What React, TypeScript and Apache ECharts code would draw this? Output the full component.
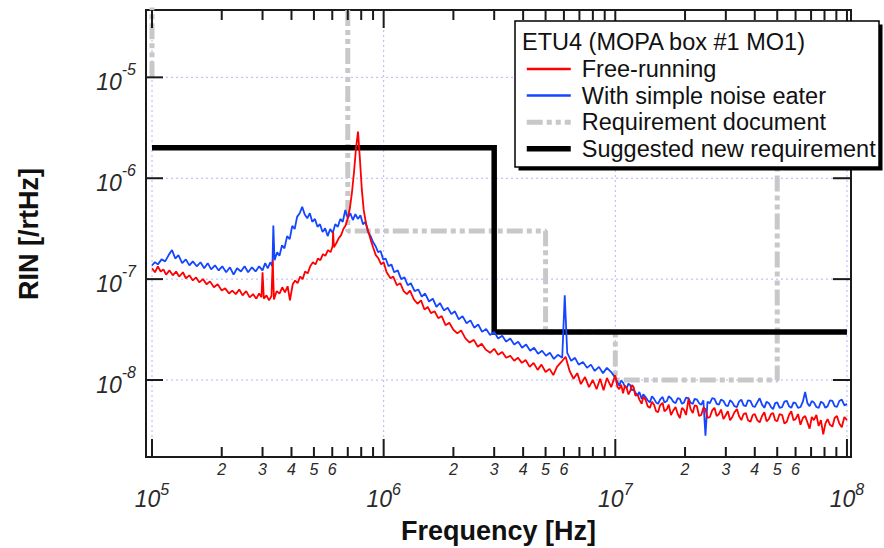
import React, { useEffect, useRef } from 'react';
import * as echarts from 'echarts';

const FONT = '"Liberation Sans", Arial, Helvetica, sans-serif';

// Free-running RIN [Hz, /rtHz]
const freeRunning: [number, number][] = [
  [1.00e5,1.28e-7],[1.03e5,1.17e-7],[1.06e5,1.34e-7],[1.09e5,1.19e-7],[1.12e5,1.25e-7],[1.15e5,1.11e-7],[1.19e5,1.22e-7],[1.23e5,1.09e-7],[1.27e5,1.19e-7],[1.31e5,1.06e-7],
  [1.36e5,1.17e-7],[1.40e5,1.02e-7],[1.45e5,1.09e-7],[1.50e5,9.7e-8],[1.55e5,1.04e-7],[1.60e5,9.3e-8],[1.66e5,1.0e-7],[1.72e5,8.9e-8],[1.78e5,9.5e-8],[1.85e5,8.3e-8],
  [1.92e5,8.9e-8],[2.0e5,7.7e-8],[2.07e5,8.1e-8],[2.15e5,7.2e-8],[2.22e5,7.7e-8],[2.30e5,7.1e-8],[2.38e5,7.9e-8],[2.46e5,6.9e-8],[2.55e5,7.6e-8],[2.64e5,6.6e-8],
  [2.73e5,7.1e-8],[2.82e5,6.4e-8],[2.90e5,7.2e-8],[2.97e5,6.6e-8],[3.0e5,1.17e-7],[3.04e5,6.4e-8],[3.12e5,6.9e-8],[3.20e5,6.15e-8],[3.28e5,6.8e-8],[3.32e5,1.54e-7],
  [3.36e5,6.3e-8],[3.45e5,7.6e-8],[3.55e5,7.2e-8],[3.65e5,8.3e-8],[3.75e5,7.4e-8],[3.85e5,8.5e-8],[3.94e5,6.15e-8],[4.05e5,8.9e-8],[4.15e5,9.7e-8],[4.25e5,9.1e-8],
  [4.36e5,1.06e-7],[4.47e5,1.0e-7],[4.58e5,1.19e-7],[4.70e5,1.14e-7],[4.82e5,1.34e-7],[4.95e5,1.47e-7],[5.08e5,1.40e-7],[5.20e5,1.6e-7],[5.33e5,1.54e-7],[5.47e5,1.77e-7],
  [5.60e5,1.7e-7],[5.75e5,1.94e-7],[5.90e5,1.85e-7],[6.02e5,2.12e-7],[6.05e5,2.93e-7],[6.10e5,2.07e-7],[6.25e5,2.28e-7],[6.40e5,2.55e-7],[6.55e5,2.73e-7],[6.70e5,3.14e-7],
  [6.85e5,3.4e-7],[7.0e5,4.0e-7],[7.15e5,5.07e-7],[7.30e5,7.3e-7],[7.45e5,1.16e-6],[7.60e5,2.0e-6],[7.75e5,2.9e-6],[7.90e5,1.53e-6],[8.05e5,7.7e-7],[8.20e5,4.85e-7],
  [8.40e5,3.5e-7],[8.60e5,2.93e-7],[8.80e5,2.43e-7],[9.0e5,2.07e-7],[9.25e5,1.73e-7],[9.5e5,1.6e-7],[9.75e5,1.4e-7],[1.0e6,1.47e-7],[1.03e6,1.17e-7],[1.07e6,1.02e-7],
  [1.10e6,1.06e-7],[1.14e6,8.7e-8],[1.18e6,9.1e-8],[1.22e6,7.6e-8],[1.26e6,7.1e-8],[1.30e6,7.7e-8],[1.35e6,6.3e-8],[1.40e6,5.7e-8],[1.45e6,6.15e-8],[1.50e6,5.0e-8],
  [1.55e6,5.3e-8],[1.60e6,4.6e-8],[1.66e6,4.8e-8],[1.72e6,4.1e-8],[1.78e6,4.3e-8],[1.85e6,3.5e-8],[1.92e6,3.7e-8],[2.0e6,3.15e-8],[2.08e6,2.9e-8],[2.16e6,3.1e-8],
  [2.25e6,2.6e-8],[2.35e6,2.35e-8],[2.45e6,2.5e-8],[2.55e6,2.14e-8],[2.65e6,2.29e-8],[2.76e6,2.0e-8],[2.88e6,1.86e-8],[3.0e6,2.04e-8],[3.12e6,1.78e-8],[3.25e6,1.9e-8],
  [3.38e6,1.66e-8],[3.52e6,1.74e-8],[3.66e6,1.55e-8],[3.80e6,1.66e-8],[3.95e6,1.48e-8],[4.1e6,1.58e-8],[4.27e6,1.35e-8],[4.44e6,1.48e-8],[4.62e6,1.26e-8],[4.80e6,1.42e-8],
  [5.0e6,1.2e-8],[5.2e6,1.29e-8],[5.4e6,1.12e-8],[5.6e6,1.35e-8],[5.85e6,1.51e-8],[6.1e6,1.7e-8],[6.35e6,1.23e-8],[6.6e6,1.03e-8],[6.85e6,1.17e-8],[7.1e6,9.1e-9],
  [7.4e6,1.07e-8],[7.7e6,8.5e-9],[8.0e6,1.0e-8],[8.3e6,8.1e-9],[8.6e6,1.03e-8],[8.9e6,7.9e-9],[9.2e6,1.05e-8],[9.6e6,8.5e-9],
  [1.0e7,1.12e-8],[1.02e7,8.6e-9],[1.04e7,8.1e-9],[1.06e7,9.0e-9],[1.08e7,7.4e-9],[1.10e7,8.8e-9],[1.12e7,8.3e-9],[1.14e7,7.2e-9],[1.16e7,7.8e-9],[1.18e7,8.9e-9],
  [1.20e7,8.5e-9],[1.22e7,7.0e-9],[1.25e7,7.1e-9],[1.27e7,6.4e-9],[1.30e7,5.8e-9],[1.32e7,6.8e-9],[1.35e7,6.4e-9],[1.38e7,5.5e-9],[1.41e7,5.3e-9],[1.44e7,6.1e-9],
  [1.47e7,5.7e-9],[1.50e7,4.9e-9],[1.53e7,4.8e-9],[1.56e7,5.6e-9],[1.60e7,5.95e-9],[1.63e7,4.9e-9],[1.67e7,5.15e-9],[1.70e7,5.7e-9],[1.74e7,4.5e-9],[1.78e7,5.0e-9],
  [1.82e7,5.4e-9],[1.86e7,4.6e-9],[1.90e7,4.2e-9],[1.94e7,5.3e-9],[1.98e7,5.05e-9],[2.02e7,4.5e-9],[2.07e7,6.5e-9],[2.11e7,5.2e-9],[2.16e7,4.7e-9],[2.20e7,5.6e-9],
  [2.25e7,5.5e-9],[2.30e7,4.4e-9],[2.35e7,4.5e-9],[2.40e7,5.3e-9],[2.45e7,5.15e-9],[2.50e7,4.2e-9],[2.56e7,4.3e-9],[2.62e7,5.0e-9],[2.68e7,5.3e-9],[2.74e7,4.4e-9],
  [2.80e7,4.6e-9],[2.86e7,5.1e-9],[2.93e7,4.1e-9],[3.0e7,4.5e-9],[3.06e7,4.9e-9],[3.13e7,4.0e-9],[3.20e7,4.3e-9],[3.27e7,4.8e-9],[3.35e7,5.15e-9],[3.42e7,4.4e-9],
  [3.50e7,4.0e-9],[3.58e7,4.6e-9],[3.66e7,4.7e-9],[3.74e7,4.0e-9],[3.83e7,3.85e-9],[3.92e7,4.5e-9],[4.0e7,4.6e-9],[4.1e7,4.0e-9],[4.2e7,3.8e-9],[4.3e7,4.4e-9],
  [4.4e7,4.8e-9],[4.5e7,3.9e-9],[4.6e7,4.1e-9],[4.7e7,4.6e-9],[4.8e7,4.7e-9],[4.9e7,4.0e-9],[5.0e7,3.9e-9],[5.12e7,4.6e-9],[5.25e7,4.5e-9],[5.37e7,3.7e-9],
  [5.5e7,3.85e-9],[5.62e7,4.5e-9],[5.75e7,4.9e-9],[5.88e7,4.0e-9],[6.0e7,4.1e-9],[6.15e7,4.6e-9],[6.3e7,3.6e-9],[6.45e7,4.2e-9],[6.6e7,4.4e-9],[6.75e7,3.8e-9],
  [6.9e7,3.3e-9],[7.05e7,4.3e-9],[7.2e7,4.0e-9],[7.38e7,4.5e-9],[7.55e7,3.5e-9],[7.72e7,4.0e-9],[7.9e7,2.9e-9],[8.07e7,3.7e-9],[8.25e7,4.1e-9],[8.45e7,3.6e-9],
  [8.65e7,3.45e-9],[8.85e7,4.2e-9],[9.05e7,4.4e-9],[9.27e7,3.7e-9],[9.5e7,3.4e-9],[9.75e7,4.3e-9],[1.0e8,4.0e-9],
];

// With simple noise eater RIN [Hz, /rtHz]
const noiseEater: [number, number][] = [
  [1.00e5,1.37e-7],[1.03e5,1.47e-7],[1.06e5,1.40e-7],[1.10e5,1.57e-7],[1.14e5,1.5e-7],[1.18e5,1.73e-7],[1.22e5,1.94e-7],[1.26e5,1.6e-7],[1.30e5,1.73e-7],[1.35e5,1.44e-7],
  [1.40e5,1.57e-7],[1.45e5,1.37e-7],[1.50e5,1.5e-7],[1.56e5,1.34e-7],[1.62e5,1.47e-7],[1.68e5,1.28e-7],[1.74e5,1.44e-7],[1.80e5,1.25e-7],[1.87e5,1.37e-7],[1.94e5,1.22e-7],
  [2.01e5,1.34e-7],[2.09e5,1.17e-7],[2.17e5,1.31e-7],[2.25e5,1.11e-7],[2.33e5,1.28e-7],[2.42e5,1.19e-7],[2.51e5,1.34e-7],[2.60e5,1.17e-7],[2.70e5,1.31e-7],[2.80e5,1.19e-7],
  [2.90e5,1.34e-7],[3.00e5,1.22e-7],[3.08e5,1.44e-7],[3.16e5,1.28e-7],[3.24e5,1.47e-7],[3.31e5,1.34e-7],[3.34e5,3.4e-7],[3.38e5,1.54e-7],[3.47e5,1.85e-7],[3.55e5,1.7e-7],
  [3.64e5,2.17e-7],[3.73e5,2.02e-7],[3.83e5,2.67e-7],[3.93e5,2.49e-7],[4.03e5,3.37e-7],[4.13e5,3.14e-7],[4.23e5,4.14e-7],[4.34e5,4.5e-7],[4.45e5,5.2e-7],[4.56e5,4.4e-7],
  [4.68e5,4.0e-7],[4.80e5,4.5e-7],[4.92e5,3.7e-7],[5.05e5,3.95e-7],[5.18e5,3.3e-7],[5.31e5,3.5e-7],[5.45e5,2.93e-7],[5.59e5,3.2e-7],[5.73e5,2.67e-7],[5.88e5,3.14e-7],
  [6.03e5,2.86e-7],[6.18e5,3.5e-7],[6.34e5,3.3e-7],[6.50e5,3.95e-7],[6.66e5,3.7e-7],[6.83e5,4.85e-7],[7.0e5,4.0e-7],[7.18e5,4.5e-7],[7.36e5,3.85e-7],[7.55e5,4.4e-7],
  [7.74e5,3.95e-7],[7.94e5,4.3e-7],[8.14e5,3.5e-7],[8.35e5,3.7e-7],[8.56e5,2.93e-7],[8.78e5,2.67e-7],[9.0e5,2.33e-7],[9.23e5,2.12e-7],[9.46e5,1.85e-7],[9.7e5,1.9e-7],
  [9.95e5,1.57e-7],[1.02e6,1.6e-7],[1.05e6,1.34e-7],[1.08e6,1.4e-7],[1.11e6,1.17e-7],[1.15e6,1.22e-7],[1.19e6,1.0e-7],[1.23e6,1.04e-7],[1.27e6,8.7e-8],[1.31e6,9.1e-8],
  [1.36e6,7.6e-8],[1.41e6,7.9e-8],[1.46e6,6.7e-8],[1.51e6,7.2e-8],[1.57e6,6.0e-8],[1.63e6,6.4e-8],[1.69e6,5.3e-8],[1.75e6,5.8e-8],[1.82e6,4.9e-8],[1.89e6,5.2e-8],
  [1.96e6,4.5e-8],[2.03e6,4.8e-8],[2.11e6,4.0e-8],[2.19e6,4.3e-8],[2.28e6,3.65e-8],[2.37e6,3.9e-8],[2.46e6,3.3e-8],[2.56e6,3.55e-8],[2.66e6,3.0e-8],[2.77e6,3.2e-8],
  [2.88e6,2.8e-8],[3.0e6,3.0e-8],[3.12e6,2.58e-8],[3.25e6,2.75e-8],[3.38e6,2.4e-8],[3.52e6,2.58e-8],[3.66e6,2.25e-8],[3.81e6,2.4e-8],[3.96e6,2.09e-8],[4.12e6,2.25e-8],
  [4.29e6,1.95e-8],[4.46e6,2.09e-8],[4.64e6,1.82e-8],[4.83e6,1.95e-8],[5.02e6,1.74e-8],[5.22e6,1.86e-8],[5.43e6,1.62e-8],[5.65e6,1.78e-8],[5.9e6,1.66e-8],[6.05e6,6.9e-8],
  [6.2e6,1.86e-8],[6.45e6,1.55e-8],[6.7e6,1.66e-8],[6.95e6,1.42e-8],[7.25e6,1.51e-8],[7.55e6,1.32e-8],[7.85e6,1.42e-8],[8.15e6,1.23e-8],[8.5e6,1.35e-8],[8.85e6,1.17e-8],
  [9.2e6,1.32e-8],[9.6e6,1.2e-8],
  [1.0e7,1.05e-8],[1.02e7,9.6e-9],[1.04e7,8.8e-9],[1.06e7,9.9e-9],[1.08e7,9.4e-9],[1.10e7,8.6e-9],[1.12e7,8.3e-9],[1.14e7,9.2e-9],[1.16e7,8.9e-9],[1.18e7,7.9e-9],
  [1.20e7,8.1e-9],[1.22e7,7.5e-9],[1.25e7,7.1e-9],[1.27e7,7.6e-9],[1.30e7,6.5e-9],[1.32e7,7.2e-9],[1.35e7,6.8e-9],[1.38e7,6.3e-9],[1.41e7,6.0e-9],[1.44e7,6.9e-9],
  [1.47e7,6.5e-9],[1.50e7,6.0e-9],[1.53e7,5.8e-9],[1.56e7,6.4e-9],[1.60e7,6.8e-9],[1.63e7,6.0e-9],[1.67e7,6.2e-9],[1.70e7,6.9e-9],[1.74e7,6.6e-9],[1.78e7,6.1e-9],
  [1.82e7,5.9e-9],[1.86e7,6.6e-9],[1.90e7,6.5e-9],[1.94e7,5.8e-9],[1.98e7,6.0e-9],[2.02e7,6.7e-9],[2.07e7,6.6e-9],[2.11e7,6.0e-9],[2.16e7,5.8e-9],[2.20e7,6.5e-9],
  [2.25e7,6.4e-9],[2.30e7,5.9e-9],[2.35e7,5.7e-9],[2.40e7,6.3e-9],[2.45e7,2.8e-9],[2.50e7,6.1e-9],[2.56e7,5.9e-9],[2.62e7,6.6e-9],[2.68e7,6.5e-9],[2.74e7,5.8e-9],
  [2.80e7,5.7e-9],[2.86e7,6.4e-9],[2.93e7,6.2e-9],[3.0e7,5.6e-9],[3.06e7,5.5e-9],[3.13e7,6.3e-9],[3.20e7,6.0e-9],[3.27e7,5.5e-9],[3.35e7,5.4e-9],[3.42e7,6.1e-9],
  [3.50e7,6.4e-9],[3.58e7,5.6e-9],[3.66e7,5.5e-9],[3.74e7,6.3e-9],[3.83e7,6.2e-9],[3.92e7,5.5e-9],[4.0e7,5.4e-9],[4.1e7,6.0e-9],[4.2e7,6.6e-9],[4.3e7,5.7e-9],
  [4.4e7,5.3e-9],[4.5e7,6.1e-9],[4.6e7,5.9e-9],[4.7e7,5.4e-9],[4.8e7,5.15e-9],[4.9e7,5.9e-9],[5.0e7,6.0e-9],[5.12e7,5.3e-9],[5.25e7,5.4e-9],[5.37e7,6.1e-9],
  [5.5e7,6.2e-9],[5.62e7,5.5e-9],[5.75e7,5.3e-9],[5.88e7,6.0e-9],[6.0e7,5.9e-9],[6.15e7,5.3e-9],[6.3e7,5.4e-9],[6.45e7,6.1e-9],[6.6e7,7.6e-9],[6.75e7,5.9e-9],
  [6.9e7,5.5e-9],[7.05e7,6.2e-9],[7.2e7,6.0e-9],[7.38e7,5.4e-9],[7.55e7,5.3e-9],[7.72e7,6.1e-9],[7.9e7,5.9e-9],[8.07e7,5.3e-9],[8.25e7,5.5e-9],[8.45e7,6.3e-9],
  [8.65e7,6.2e-9],[8.85e7,5.5e-9],[9.05e7,5.4e-9],[9.27e7,6.2e-9],[9.5e7,6.4e-9],[9.75e7,5.6e-9],[1.0e8,5.8e-9],
];

// Requirement document (step limit)
const requirementDoc: [number, number][] = [
  [1e5, 1e-5], [1e5, 1e-3], [7e5, 1e-3], [7e5, 3e-7], [5e6, 3e-7], [5e6, 3e-8],
  [1e7, 3e-8], [1e7, 1e-8], [5e7, 1e-8], [5e7, 1e-5],
];

// Suggested new requirement (step limit)
const suggestedReq: [number, number][] = [
  [1e5, 2e-6], [3e6, 2e-6], [3e6, 3e-8], [1e8, 3e-8],
];

const seriesNames = ['Free-running', 'With simple noise eater', 'Requirement document', 'Suggested new requirement'];
const legendTitle = 'ETU4 (MOPA box #1 MO1)';

// Axis ranges and ticks
const xRange = [9.42e4, 1.041e8];
const yRange = [1.726e-9, 4.65e-5];
const xDecadeExponents = [5, 6, 7, 8];
const xMinorMantissas = [2, 3, 4, 5, 6, 7, 8, 9];
const xLabeledMantissas = [2, 3, 4, 5, 6];
const yDecadeExponents = [-5, -6, -7, -8];

const xTickValues: number[] = [];
const xTickMajor: boolean[] = [];
const xTickText: string[] = [];
xDecadeExponents.forEach((e, i) => {
  xTickValues.push(Math.pow(10, e));
  xTickMajor.push(true);
  xTickText.push(String(e));
  if (i < xDecadeExponents.length - 1) {
    xMinorMantissas.forEach((m) => {
      xTickValues.push(m * Math.pow(10, e));
      xTickMajor.push(false);
      xTickText.push(xLabeledMantissas.indexOf(m) >= 0 ? String(m) : '');
    });
  }
});
const yTickValues = yDecadeExponents.map((e) => Math.pow(10, e));

const AXIS_COLOR = '#1a1a1a';
const LABEL_COLOR = '#2a2a2a';
const GRID_COLOR = '#b4b4ff';

export default function App() {
  const ref = useRef<HTMLDivElement>(null);

  useEffect(() => {
    if (!ref.current) return;
    const chart = echarts.init(ref.current, undefined, { renderer: 'svg' });

    const option: any = {
      animation: false,
      backgroundColor: '#ffffff',
      grid: {
        left: 146, right: 33, top: 10, bottom: 91,
        show: true, borderColor: AXIS_COLOR, borderWidth: 2, backgroundColor: 'transparent',
      },
      xAxis: {
        type: 'log', logBase: 10, min: xRange[0], max: xRange[1],
        axisLine: { show: false }, axisTick: { show: false }, axisLabel: { show: false }, splitLine: { show: false },
      },
      yAxis: {
        type: 'log', logBase: 10, min: yRange[0], max: yRange[1],
        axisLine: { show: false }, axisTick: { show: false }, axisLabel: { show: false }, splitLine: { show: false },
      },
      legend: {
        data: [
          { name: seriesNames[0], lineStyle: { width: 2.5 } },
          { name: seriesNames[1], lineStyle: { width: 2.5 } },
          { name: seriesNames[2] },
          { name: seriesNames[3] },
        ],
        orient: 'vertical', left: 524, top: 55.7, padding: 0, itemGap: 0,
        itemWidth: 44, itemHeight: 14,
        textStyle: { fontSize: 23.5, fontFamily: FONT, color: '#111', lineHeight: 26.6, padding: [0, 0, 0, 6] },
        itemStyle: { opacity: 0 },
        lineStyle: { width: 'inherit' },
        selectedMode: false,
        z: 30,
      },
      graphic: [
        { type: 'rect', z: 20, silent: true, shape: { x: 518.5, y: 24.5, width: 364, height: 146 }, style: { fill: '#000' } },
        { type: 'rect', z: 21, silent: true, shape: { x: 515, y: 21, width: 364, height: 146 }, style: { fill: '#fff', stroke: '#000', lineWidth: 1.5 } },
        { type: 'text', z: 22, silent: true, x: 522, y: 42, style: { text: legendTitle, fontSize: 23.5, fontFamily: FONT, fill: '#111', verticalAlign: 'middle', align: 'left' } },
        { type: 'text', z: 22, silent: true, x: 498.5, y: 531, style: { text: 'Frequency [Hz]', fontSize: 27, fontWeight: 'bold', fontFamily: FONT, fill: '#111', align: 'center', verticalAlign: 'middle' } },
        { type: 'text', z: 22, silent: true, x: 29, y: 234, rotation: Math.PI / 2, style: { text: 'RIN [/rtHz]', fontSize: 27, fontWeight: 'bold', fontFamily: FONT, fill: '#111', align: 'center', verticalAlign: 'middle' } },
      ],
      series: [
        {
          type: 'custom', name: 'xgrid', silent: true, z: 1,
          data: xTickValues.filter((_, i) => xTickMajor[i]).map((f) => [f, 1e-7]),
          renderItem: (params: any, api: any) => {
            const cs = params.coordSys;
            const x = api.coord([api.value(0), 1e-7])[0];
            return { type: 'line', shape: { x1: x, y1: cs.y, x2: x, y2: cs.y + cs.height }, style: { stroke: GRID_COLOR, lineWidth: 1, lineDash: [2, 3] } };
          },
        },
        {
          type: 'custom', name: 'ygrid', silent: true, z: 1,
          data: yTickValues.map((v) => [1e6, v]),
          renderItem: (params: any, api: any) => {
            const cs = params.coordSys;
            const y = api.coord([1e6, api.value(1)])[1];
            return { type: 'line', shape: { x1: cs.x, y1: y, x2: cs.x + cs.width, y2: y }, style: { stroke: GRID_COLOR, lineWidth: 1, lineDash: [2, 3] } };
          },
        },
        {
          name: seriesNames[2], type: 'line', data: requirementDoc, symbol: 'none', z: 2, silent: true,
          color: '#c8c8c8',
          lineStyle: { color: '#c8c8c8', width: 5, type: [16, 4, 5, 4, 5, 4], cap: 'butt' },
        },
        {
          name: seriesNames[3], type: 'line', data: suggestedReq, symbol: 'none', z: 3, silent: true,
          color: '#000000',
          lineStyle: { color: '#000000', width: 5.5, cap: 'butt', join: 'miter' },
        },
        {
          name: seriesNames[1], type: 'line', data: noiseEater, symbol: 'none', z: 4, silent: true,
          color: '#1446ff',
          lineStyle: { color: '#1446ff', width: 1.8 },
        },
        {
          name: seriesNames[0], type: 'line', data: freeRunning, symbol: 'none', z: 5, silent: true,
          color: '#ff0000',
          lineStyle: { color: '#ff0000', width: 1.8 },
        },
        {
          type: 'custom', name: 'xticks', silent: true, z: 10,
          data: xTickValues.map((f) => [f, 1e-7]),
          renderItem: (params: any, api: any) => {
            const i = params.dataIndex;
            const cs = params.coordSys;
            const x = api.coord([api.value(0), 1e-7])[0];
            const top = cs.y;
            const bot = cs.y + cs.height;
            const major = xTickMajor[i];
            const len = major ? 18 : 10;
            const children: any[] = [
              { type: 'line', shape: { x1: x, y1: bot, x2: x, y2: bot - len }, style: { stroke: AXIS_COLOR, lineWidth: 2 } },
              { type: 'line', shape: { x1: x, y1: top, x2: x, y2: top + len }, style: { stroke: AXIS_COLOR, lineWidth: 2 } },
            ];
            if (major) {
              children.push({
                type: 'text', x, y: bot + 41.5,
                style: {
                  text: '{b|10}{s|' + xTickText[i] + '}', align: 'center', verticalAlign: 'middle', fill: LABEL_COLOR,
                  rich: {
                    b: { fontSize: 23, fontStyle: 'italic', fontFamily: FONT, lineHeight: 34, fill: LABEL_COLOR },
                    s: { fontSize: 16, fontStyle: 'italic', fontFamily: FONT, verticalAlign: 'top', fill: LABEL_COLOR },
                  },
                },
              });
            } else if (xTickText[i]) {
              children.push({
                type: 'text', x, y: bot + 12,
                style: { text: xTickText[i], fontSize: 16, fontStyle: 'italic', fontFamily: FONT, fill: LABEL_COLOR, align: 'center', verticalAlign: 'middle' },
              });
            }
            return { type: 'group', children };
          },
        },
        {
          type: 'custom', name: 'yticks', silent: true, z: 10,
          data: yTickValues.map((v) => [1e6, v]),
          renderItem: (params: any, api: any) => {
            const i = params.dataIndex;
            const cs = params.coordSys;
            const y = api.coord([1e6, api.value(1)])[1];
            const left = cs.x;
            const right = cs.x + cs.width;
            return {
              type: 'group',
              children: [
                { type: 'line', shape: { x1: left, y1: y, x2: left + 17, y2: y }, style: { stroke: AXIS_COLOR, lineWidth: 2 } },
                { type: 'line', shape: { x1: right, y1: y, x2: right - 18, y2: y }, style: { stroke: AXIS_COLOR, lineWidth: 2 } },
                {
                  type: 'text', x: left - 10, y: y + 5,
                  style: {
                    text: '{b|10}{s|' + String(yDecadeExponents[i]) + '}', align: 'right', verticalAlign: 'middle', fill: LABEL_COLOR,
                    rich: {
                      b: { fontSize: 23, fontStyle: 'italic', fontFamily: FONT, lineHeight: 42, fill: LABEL_COLOR },
                      s: { fontSize: 16, fontStyle: 'italic', fontFamily: FONT, verticalAlign: 'top', fill: LABEL_COLOR },
                    },
                  },
                },
              ],
            };
          },
        },
      ],
    };

    chart.setOption(option);
    return () => chart.dispose();
  }, []);

  return (
    <div
      ref={ref}
      style={{ position: 'fixed', left: 0, top: 0, width: 884, height: 548, background: '#fff' }}
    />
  );
}
